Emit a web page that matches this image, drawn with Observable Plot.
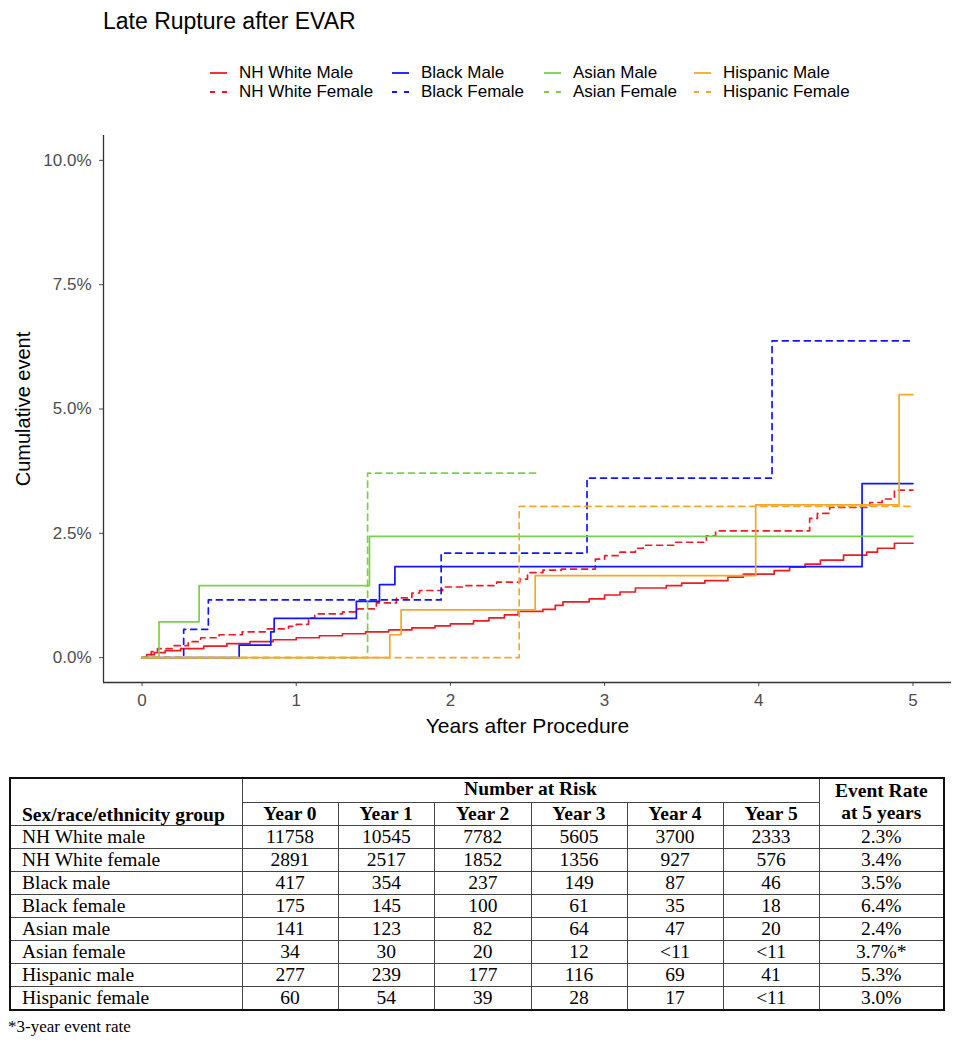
<!DOCTYPE html>
<html><head><meta charset="utf-8">
<script src="https://cdn.jsdelivr.net/npm/d3@7"></script>
<script src="https://cdn.jsdelivr.net/npm/@observablehq/plot@0.6"></script>
<style>
body{margin:0;background:#fff;font-family:"Liberation Sans",Arial,sans-serif;}
#wrap{position:relative;width:961px;height:1050px;overflow:hidden;}
#title{position:absolute;left:103px;top:7px;font-size:23px;color:#000;line-height:28px;}
.leg{position:absolute;font-size:17px;line-height:20px;display:flex;align-items:center;white-space:nowrap;color:#000;}
.leg svg{margin-right:12px;}
#chart{position:absolute;left:0;top:110px;}
table{position:absolute;left:9px;top:777px;border-collapse:collapse;table-layout:fixed;width:934px;
 font-family:"Liberation Serif","Times New Roman",serif;font-size:19.5px;color:#000;border:2px solid #111;}
td,th{border:1.5px solid #444;padding:0;line-height:20px;height:22px;text-align:center;white-space:nowrap;overflow:hidden;}
th{font-weight:bold;}
td.g{text-align:left;padding-left:11px;}
th.g{text-align:left;padding-left:11px;vertical-align:bottom;}
#foot{position:absolute;left:8px;top:1017px;font-family:"Liberation Serif","Times New Roman",serif;font-size:17px;}
</style></head>
<body><div id="wrap">
<div id="title">Late Rupture after EVAR</div>
<div id="legend"></div>
<div id="chart"></div>
<table id="tbl"></table>
<div id="foot">*3-year event rate</div>
</div>
<script>
// ---- data ----
const groups = ["NH White Male","NH White Female","Black Male","Black Female","Asian Male","Asian Female","Hispanic Male","Hispanic Female"];
// step change points: years and cumulative event (%)
const nhWhiteMaleT = [0,0.03,0.08,0.15,0.25,0.4,0.55,0.7,0.85,1.0,1.15,1.3,1.45,1.6,1.75,1.9,2.0,2.15,2.25,2.35,2.44,2.6,2.68,2.73,2.9,3.0,3.1,3.2,3.4,3.5,3.65,3.8,3.9,4.1,4.2,4.3,4.4,4.55,4.7,4.77,4.88,5.0];
const nhWhiteMaleV = [0,0.06,0.1,0.14,0.18,0.23,0.28,0.32,0.36,0.4,0.44,0.48,0.52,0.56,0.6,0.64,0.68,0.74,0.8,0.86,0.93,0.97,1.05,1.12,1.18,1.26,1.32,1.4,1.45,1.5,1.55,1.62,1.68,1.75,1.82,1.88,1.96,2.06,2.12,2.2,2.3,2.3];
const nhWhiteFemaleT = [0,0.03,0.06,0.1,0.2,0.3,0.38,0.5,0.65,0.8,0.95,1.0,1.08,1.12,1.3,1.4,1.52,1.65,1.75,1.8,1.95,2.1,2.3,2.45,2.5,2.6,2.72,2.94,3.0,3.1,3.2,3.25,3.45,3.66,3.72,4.33,4.38,4.46,4.72,4.8,4.88,5.0];
const nhWhiteFemaleV = [0,0.06,0.12,0.18,0.24,0.32,0.4,0.46,0.52,0.58,0.63,0.67,0.8,0.88,0.92,0.98,1.1,1.2,1.3,1.35,1.42,1.45,1.52,1.58,1.71,1.76,1.78,1.98,2.05,2.12,2.2,2.26,2.32,2.45,2.55,2.8,2.9,3.02,3.12,3.19,3.37,3.37];
const blackMaleT = [0,0.63,0.835,0.857,1.39,1.54,1.64,4.67,5.0];
const blackMaleV = [0,0.25,0.52,0.79,1.13,1.47,1.83,3.5,3.5];
const blackFemaleT = [0,0.27,0.43,1.94,2.886,4.086,5.0];
const blackFemaleV = [0,0.57,1.16,2.1,3.61,6.37,6.37];
const asianMaleT = [0,0.11,0.37,1.475,5.0];
const asianMaleV = [0,0.72,1.45,2.44,2.44];
const asianFemaleT = [0,1.463,2.57];
const asianFemaleV = [0,3.71,3.71];
const hispanicMaleT = [0,1.607,1.68,2.55,3.98,4.91,5.0];
const hispanicMaleV = [0,0.46,0.96,1.65,3.07,5.29,5.29];
const hispanicFemaleT = [0,2.446,5.0];
const hispanicFemaleV = [0,3.04,3.04];

const xTicks = [0,1,2,3,4,5];
const yTicks = [0,2.5,5,7.5,10];

// table data
const tableGroups = ["NH White male","NH White female","Black male","Black female","Asian male","Asian female","Hispanic male","Hispanic female"];
const yearLabels = ["Year 0","Year 1","Year 2","Year 3","Year 4","Year 5"];
const atRisk = [
 ["11758","10545","7782","5605","3700","2333"],
 ["2891","2517","1852","1356","927","576"],
 ["417","354","237","149","87","46"],
 ["175","145","100","61","35","18"],
 ["141","123","82","64","47","20"],
 ["34","30","20","12","<11","<11"],
 ["277","239","177","116","69","41"],
 ["60","54","39","28","17","<11"]
];
const eventRate5 = ["2.3%","3.4%","3.5%","6.4%","2.4%","3.7%*","5.3%","3.0%"];

// ---- styles ----
const colorOf = {"NH White":"#ec1c24","Black":"#1414ff","Asian":"#7ccf4a","Hispanic":"#f7a62a"};
const seriesT = [nhWhiteMaleT,nhWhiteFemaleT,blackMaleT,blackFemaleT,asianMaleT,asianFemaleT,hispanicMaleT,hispanicFemaleT];
const seriesV = [nhWhiteMaleV,nhWhiteFemaleV,blackMaleV,blackFemaleV,asianMaleV,asianFemaleV,hispanicMaleV,hispanicFemaleV];
const race = g => g.replace(/ (Male|Female)$/,"");
const isFemale = g => /Female$/.test(g);
const DASH = "6,5";

const rows = groups.flatMap((g,i)=>seriesT[i].map((t,j)=>({group:g,t,v:seriesV[i][j]})));

// legend
const legend = document.getElementById("legend");
const legX = [210,392,544,694];
const legY = [63,82];
groups.forEach((g,i)=>{
  const col = Math.floor(i/2), row = i%2;
  const d = document.createElement("div");
  d.className = "leg";
  d.style.left = legX[col]+"px";
  d.style.top = legY[row]+"px";
  const c = colorOf[race(g)];
  d.innerHTML = `<svg width="17" height="6"><line x1="0" x2="17" y1="3" y2="3" stroke="${c}" stroke-width="1.8" ${isFemale(g)?'stroke-dasharray="5,7"':''}/></svg><span>${g}</span>`;
  legend.appendChild(d);
});

// chart
const chart = Plot.plot({
  width:961, height:640,
  marginTop:25, marginBottom:68, marginLeft:103, marginRight:10,
  style:{fontFamily:'"Liberation Sans",Arial,sans-serif', background:"white", overflow:"visible"},
  x:{domain:[-0.25,5.25]},
  y:{domain:[-0.5,10.5]},
  marks:[
    Plot.axisX({ticks:xTicks, tickSize:4, tickPadding:7, fontSize:17, color:"#4d4d4d", label:null, tickFormat:d=>String(d)}),
    Plot.axisY({ticks:yTicks, tickSize:4, tickPadding:8, fontSize:17, color:"#4d4d4d", label:null, tickFormat:d=>d.toFixed(1)+"%"}),
    Plot.ruleX([-0.25],{stroke:"#333", strokeWidth:1.3}),
    Plot.ruleY([-0.5],{stroke:"#333", strokeWidth:1.3}),
    ...groups.map(g=>Plot.line(rows.filter(r=>r.group===g),{
      x:"t", y:"v", curve:"step-after",
      stroke:colorOf[race(g)], strokeWidth:1.7,
      strokeDasharray: isFemale(g)?DASH:null
    })),
    Plot.text(["Cumulative event"],{frameAnchor:"left", dx:-80, rotate:-90, textAnchor:"middle", fontSize:20, fill:"#000"}),
    Plot.text(["Years after Procedure"],{frameAnchor:"bottom", dy:50, fontSize:21, fill:"#000"})
  ]
});
document.getElementById("chart").appendChild(chart);

// table
const tbl = document.getElementById("tbl");
const widths = [232,96,96.5,96.5,96,96,96,125];
let html = "<colgroup>"+widths.map(w=>`<col style="width:${w}px">`).join("")+"</colgroup>";
html += `<tr style="height:24.5px"><th class="g" rowspan="2">Sex/race/ethnicity group</th><th colspan="6" style="vertical-align:top">Number at Risk</th><th rowspan="2" style="line-height:22px">Event Rate<br>at 5 years</th></tr>`;
html += "<tr>"+yearLabels.map(y=>`<th>${y}</th>`).join("")+"</tr>";
tableGroups.forEach((g,i)=>{
  html += `<tr><td class="g">${g}</td>`+atRisk[i].map(v=>`<td>${v.replace("<","&lt;")}</td>`).join("")+`<td>${eventRate5[i]}</td></tr>`;
});
tbl.innerHTML = html;
</script>
</body></html>
